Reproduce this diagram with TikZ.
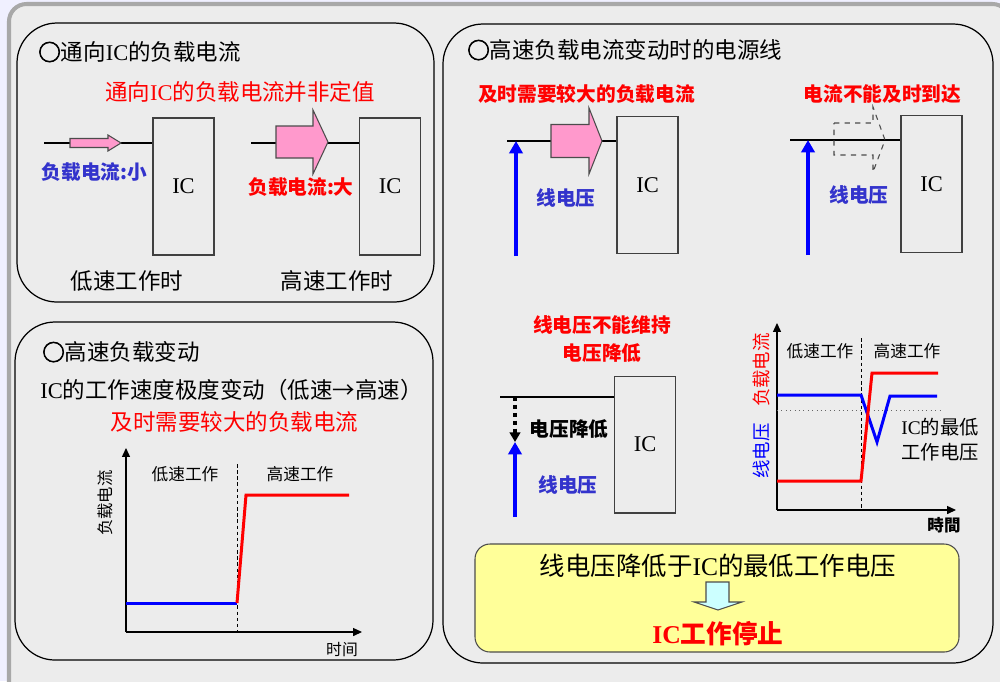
\documentclass[tikz,border=0pt]{standalone}
\usepackage{fontspec}
\setmainfont{Liberation Serif}
\newfontfamily\cjk{Noto Sans CJK SC}
\newfontfamily\ringfont{Noto Sans CJK SC}[FakeBold=3]
\usetikzlibrary{arrows.meta}
\newcommand\lat[1]{{\rmfamily #1}}
\newcommand\ring{{\ringfont ○}}
\definecolor{bggray}{HTML}{ECECEC}
\definecolor{framegray}{HTML}{A8A8A8}
\definecolor{loadpink}{HTML}{FF99CC}
\definecolor{lblblue}{HTML}{3333CC}
\definecolor{boxyellow}{HTML}{FFFF99}
\definecolor{downcyan}{HTML}{CCFFFF}
\tikzset{
  panel/.style={draw=black, line width=0.7pt, rounded corners=0.8cm},
  icbox/.style={draw=black!75, line width=0.6pt, minimum width=1.22cm, minimum height=2.74cm, font=\fontsize{12.8}{15}\selectfont},
  heading/.style={anchor=west, inner sep=0pt, font=\fontsize{12.8}{15}\selectfont\cjk},
  txt/.style={inner sep=0pt, font=\fontsize{12.8}{15}\selectfont\cjk},
  tag/.style={inner sep=0pt, font=\fontsize{11.2}{13}\selectfont\cjk\bfseries},
  small/.style={inner sep=0pt, font=\fontsize{9.5}{11}\selectfont\cjk},
  feed/.style={line width=0.6pt},
  load/.style={draw=black!70, line width=0.6pt, fill=loadpink},
  ghost/.style={draw=black!70, dashed, line width=0.6pt},
  fall/.style={draw=black!70, line width=0.6pt, fill=downcyan},
  supply/.style={draw=blue, line width=2.3pt, -{Triangle[width=7.5pt,length=7pt]}},
  sag/.style={line width=2.3pt, dash pattern=on 2.5pt off 2pt, -{Triangle[width=6pt,length=5.5pt]}},
  axis/.style={line width=0.6pt, -{Triangle[width=4.5pt,length=5pt]}},
  split/.style={line width=0.5pt, dash pattern=on 2pt off 1.5pt},
  cur/.style={red, line width=1.7pt},
  volt/.style={blue, line width=1.7pt},
}
\begin{document}
\begin{tikzpicture}[x=0.02cm,y=-0.02cm]
  \useasboundingbox (0,0) rectangle (1000,681);
  \fill[white!94!blue] (0,0) rectangle (1000,681);
  \draw[framegray, line width=2.3pt, fill=bggray, rounded corners=0.35cm] (9,4) rectangle (1010,700);

  % panels
  \draw[panel] (17,23) rectangle (434,302);
  \draw[panel] (15,322) rectangle (433,660);
  \draw[panel] (443,24) rectangle (993,663);

  % load current into the IC
  \node[heading] (hdLoad) at (38,52) {\ring 通向\lat{IC}的负载电流};
  \node[txt, red] (noteLoad) at (240,92) {通向\lat{IC}的负载电流并非定值};
  \node[icbox] (icLo) at (183.5,186.5) {IC};
  \node[icbox] (icHi) at (390,186.5) {IC};
  \coordinate (feedLo) at (44,143);
  \coordinate (feedHi) at (251,143);
  \draw[feed] (feedLo) -- (feedLo -| icLo.west);
  \draw[feed] (feedHi) -- (feedHi -| icHi.west);
  \draw[load] (70,138.5) -- (108,138.5) -- (108,135) -- (121,143) -- (108,151) -- (108,147.5) -- (70,147.5) -- cycle;
  \draw[load] (276,126) -- (313,126) -- (313,110) -- (328,142) -- (313,174) -- (313,158) -- (276,158) -- cycle;
  \node[tag, lblblue] (lblLo) at (94.5,172) {负载电流:小};
  \node[tag, red] (lblHi) at (301,187) {负载电流:大};
  \node[txt] (capLo) at (127,281) {低速工作时};
  \node[txt] (capHi) at (337,281) {高速工作时};

  % fast load step
  \node[heading] (hdStep) at (42,352) {\ring 高速负载变动};
  \node[txt] (noteStep) at (231.5,390) {\lat{IC}的工作速度极度变动（低速→高速）};
  \node[txt, red] (needStep) at (234.5,422) {及时需要较大的负载电流};
  \coordinate (oB) at (126,632);
  \draw[axis] (oB) -- (126,448);
  \draw[axis] (oB) -- (362,632);
  \draw[split] (237,464) -- (237,632);
  \draw[volt] (126,603) -- (237,603);
  \draw[cur] (237,603) -- (246,495) -- (349,495);
  \node[small] (slowB) at (185,474) {低速工作};
  \node[small] (fastB) at (300,474) {高速工作};
  \node[small, rotate=90, font=\fontsize{9.3}{11}\selectfont\cjk] (yB) at (105,503) {负载电流};
  \node[small, font=\fontsize{9}{11}\selectfont\cjk] (tB) at (342,650) {时间};

  % supply line under a fast load step
  \node[heading] (hdLine) at (467,50) {\ring 高速负载电流变动时的电源线};

  \node[tag, red] (needA) at (586.5,94) {及时需要较大的负载电流};
  \node[icbox] (icA) at (647.5,185) {IC};
  \coordinate (feedA) at (507,141);
  \draw[feed] (feedA) -- (feedA -| icA.west);
  \draw[load] (551,124.5) -- (589,124.5) -- (589,108) -- (602,141) -- (589,174) -- (589,157.5) -- (551,157.5) -- cycle;
  \coordinate (baseA) at (516,256);
  \draw[supply] (baseA) -- (feedA -| baseA);
  \node[tag, lblblue] (lineA) at (566,198) {线电压};

  \node[tag, red] (lateB) at (882.5,94) {电流不能及时到达};
  \node[icbox] (icB) at (931.5,184) {IC};
  \coordinate (feedB) at (790,140);
  \draw[feed] (feedB) -- (feedB -| icB.west);
  \draw[ghost] (834,123) -- (873,123) -- (873,107) -- (885,140) -- (873,172) -- (873,155) -- (834,155) -- cycle;
  \coordinate (baseB) at (808,255);
  \draw[supply] (baseB) -- (feedB -| baseB);
  \node[tag, lblblue] (lineB) at (859,195) {线电压};

  \node[tag, red, align=center] (dropC) at (602,339) {线电压不能维持\\[2.5pt]电压降低};
  \node[icbox] (icC) at (645,444.5) {IC};
  \coordinate (feedC) at (500,397);
  \draw[feed] (feedC) -- (feedC -| icC.west);
  \coordinate (dipC) at (515,442);
  \draw[sag] (feedC -| dipC) -- (dipC);
  \coordinate (baseC) at (515,517);
  \draw[supply] (baseC) -- (dipC);
  \node[tag] (sagC) at (569,429) {电压降低};
  \node[tag, lblblue] (lineC) at (568,485) {线电压};

  \coordinate (oD) at (777,510);
  \draw[axis] (oD) -- (777,323);
  \draw[axis] (oD) -- (956,510);
  \draw[split] (861,338) -- (861,510);
  \draw[black!60, dotted, line width=0.5pt] (777,410) -- (940,410);
  \draw[volt] (777,395) -- (861,395) -- (877,442) -- (890,396) -- (937,396);
  \draw[cur] (777,481) -- (861,481) -- (872,373) -- (938,373);
  \node[small] (slowD) at (820,351) {低速工作};
  \node[small] (fastD) at (907,351) {高速工作};
  \node[small, red, rotate=90, font=\fontsize{10.5}{12}\selectfont\cjk] (yCurD) at (761,370) {负载电流};
  \node[small, blue, rotate=90, font=\fontsize{10.5}{12}\selectfont\cjk] (yVoltD) at (761,451) {线电压};
  \node[txt, align=center, font=\fontsize{11}{14.2}\selectfont\cjk] (minD) at (940,439.5) {\lat{IC}的最低\\工作电压};
  \node[tag, font=\fontsize{9.4}{11}\selectfont\cjk\bfseries] (tD) at (944,525) {時間};

  % result
  \draw[draw=black!70, line width=0.6pt, fill=boxyellow, rounded corners=0.3cm] (475,544) rectangle (959,652);
  \node[txt, font=\fontsize{14.5}{17}\selectfont\cjk] (lowV) at (718,566) {线电压降低于\lat{IC}的最低工作电压};
  \draw[fall] (706,582) -- (729,582) -- (729,602) -- (742,602) -- (718,610) -- (694,602) -- (706,602) -- cycle;
  \node[tag, red, font=\fontsize{14.6}{17}\selectfont\cjk\bfseries] (stopIC) at (718,634) {\lat{IC}工作停止};
\end{tikzpicture}
\end{document}
